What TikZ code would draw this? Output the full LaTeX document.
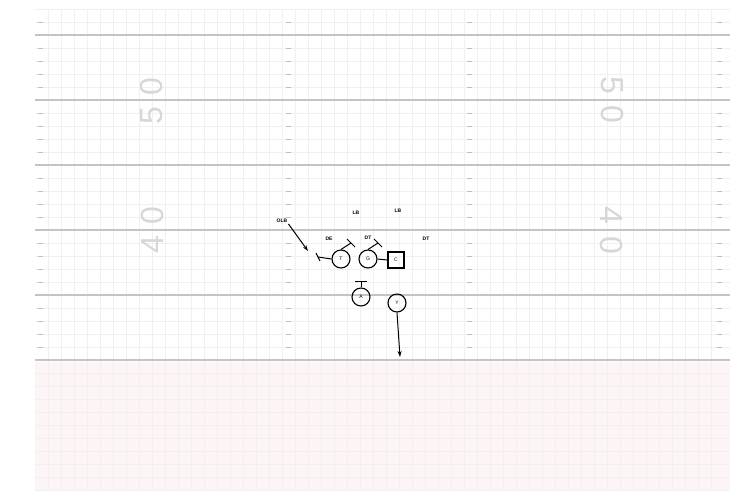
\documentclass[tikz,border=0pt]{standalone}
\usepackage{tikz}
\usepackage{xcolor}
\usepackage{fontspec}
\setsansfont{Liberation Sans}
\usetikzlibrary{arrows.meta, positioning}
\definecolor{yardcolor}{RGB}{196, 196, 196}
\definecolor{gridcolor}{RGB}{240, 240, 240}
\definecolor{hashcolor}{RGB}{190, 190, 190}
\definecolor{numcolor}{RGB}{215, 215, 215}
\definecolor{endzonecolor}{RGB}{253, 244, 246}
\tikzset{
	yardline/.style={draw=yardcolor, line width=2.8pt},
	gridline/.style={draw=gridcolor, line width=0.5pt},
	hashmark/.style={draw=hashcolor, line width=0.6pt},
	yardnum/.style={text=numcolor, font=\sffamily\fontsize{32}{32}\selectfont, inner sep=0pt},
	player/.style={draw, circle, line width=1.1pt, minimum size=18pt, inner sep=0pt, font=\sffamily\fontsize{5}{5}\selectfont},
	centerbox/.style={draw, rectangle, line width=1.1pt, minimum size=16pt, inner sep=0pt, font=\sffamily\fontsize{5}{5}\selectfont},
	defender/.style={font=\sffamily\bfseries\fontsize{5}{6}\selectfont, inner sep=1pt},
	route/.style={-{Stealth[length=6pt, width=4pt]}, line width=1pt},
	blockline/.style={line width=1pt}
}

\begin{document}
\begin{tikzpicture}[x=1pt, y=-1pt]
	\useasboundingbox (0,0) rectangle (746,493);

	% Field
	\fill[endzonecolor] (35,362) rectangle (730,490);
	\foreach \x in {48,61,...,722}
		\draw[gridline] (\x,9) -- (\x,490);
	\foreach \y in {9,22,...,490}
		\draw[gridline] (35,\y) -- (730,\y);
	\foreach \y in {35,100,...,360}
		\draw[yardline] (35,\y) -- (730,\y);
	\foreach \hx in {38,286,467,717} {
		\draw[hashmark] (\hx,22) -- ++(5,0);
		\foreach \yl in {35,100,...,295}
			\foreach \k in {1,...,4}
				\draw[hashmark] (\hx,\yl+13*\k) -- ++(5,0);
	}

	% Numbers
	\node[yardnum, rotate=90] (num50l) at (151,101) {5\hspace{12pt}0};
	\node[yardnum, rotate=-90] (num50r) at (613,100) {5\hspace{12pt}0};
	\node[yardnum, rotate=90] (num40l) at (152,230) {4\hspace{12pt}0};
	\node[yardnum, rotate=-90] (num40r) at (612,230) {4\hspace{12pt}0};

	% Offense
	\node[player] (T) at (341,259) {T};
	\node[player] (G) at (368,259) {G};
	\node[centerbox] (C) at (396,260) {C};
	\node[player] (A) at (361,297) {A};
	\node[player] (Y) at (397,303) {Y};

	% Defense
	\node[defender] (OLB) at (282,221) {OLB};
	\node[defender] (DE) at (329,239) {DE};
	\node[defender] (LB1) at (356,213) {LB};
	\node[defender] (LB2) at (398,211) {LB};
	\node[defender] (DT1) at (368,238) {DT};
	\node[defender] (DT2) at (426,239) {DT};

	% Blocks
	\coordinate (blkL) at (318,257);
	\coordinate (blkT) at (351,243);
	\coordinate (blkG) at (378,243);
	\coordinate (blkA) at (361,281);
	\draw[blockline] (T.west) -- (blkL);
	\draw[blockline] ([shift={(-2,-4)}]blkL) -- ([shift={(2,4)}]blkL);
	\draw[blockline] (T.north) -- (blkT);
	\draw[blockline] ([shift={(-4,-4)}]blkT) -- ([shift={(4,4)}]blkT);
	\draw[blockline] (G.north) -- (blkG);
	\draw[blockline] ([shift={(-4,-4)}]blkG) -- ([shift={(4,4)}]blkG);
	\draw[blockline] (G.east) -- (C.west);
	\draw[blockline] (A.north) -- (blkA);
	\draw[blockline] ([xshift=-6]blkA) -- ([xshift=6]blkA);

	% Routes
	\coordinate (olbEnd) at (308,251);
	\coordinate (yEnd) at (400,357);
	\draw[route] (OLB.south east) -- (olbEnd);
	\draw[route] (Y.south) -- (yEnd);

\end{tikzpicture}
\end{document}
